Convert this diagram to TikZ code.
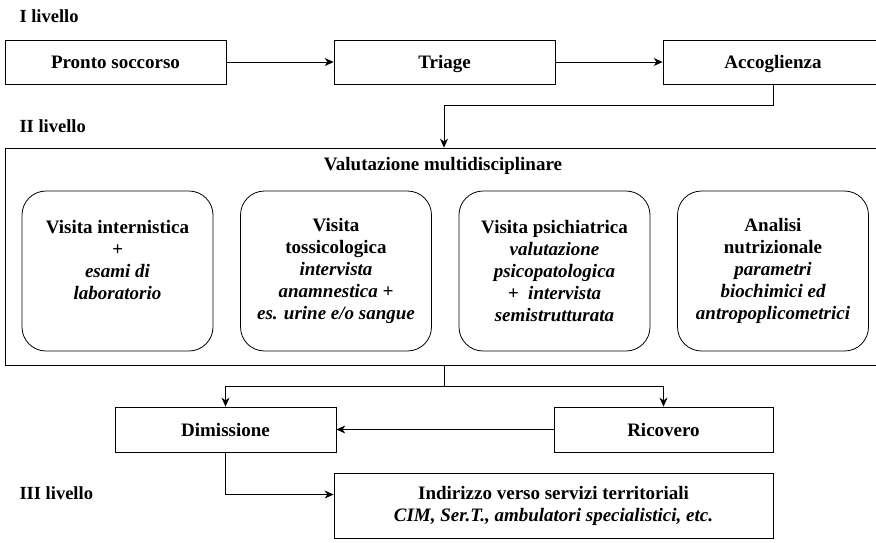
\documentclass[tikz,border=0pt]{standalone}
\usepackage{fontspec}
\setmainfont{Liberation Serif}
\usetikzlibrary{arrows.meta}

\tikzset{
  stepbox/.style={draw, line width=0.8pt, minimum height=44pt,
    font=\fontsize{19}{22}\selectfont\bfseries},
  oneline/.style={text height=15pt, text depth=2pt},
  visitbox/.style={draw, line width=0.8pt, rounded corners=24pt,
    minimum width=191pt, minimum height=160pt, align=center,
    font=\fontsize{19}{22}\selectfont\bfseries},
  levellabel/.style={anchor=west, font=\fontsize{18.5}{22}\selectfont\bfseries},
  conn/.style={line width=0.8pt},
  arr/.style={conn, -{Stealth[length=9pt,width=8pt]}}
}

\begin{document}
\begin{tikzpicture}[x=1pt,y=-1pt]
  \useasboundingbox (0,0) rectangle (876,542);
  % I livello
  \node[levellabel] (lev1) at (16,16) {I livello};
  \node[stepbox, oneline, minimum width=221pt] (ps) at (115.5,62) {Pronto soccorso};
  \node[stepbox, oneline, minimum width=221pt] (tri) at (444.5,62) {Triage};
  \node[stepbox, oneline, minimum width=220pt] (acc) at (773,62) {Accoglienza};
  \draw[arr] (ps) -- (tri);
  \draw[arr] (tri) -- (acc);
  % II livello
  \node[levellabel] (lev2) at (16,126) {II livello};
  \node[draw, line width=0.8pt, minimum width=875pt, minimum height=217pt] (valut) at (442.5,256.5) {};
  \node[font=\fontsize{19}{22}\selectfont\bfseries] (valtitle) at (443,166) {Valutazione multidisciplinare};
  \coordinate (split1) at (444,105);
  \draw[arr] (acc.south) |- (split1) -- (split1 |- valut.north);
  % Visite
  \node[visitbox] (vint) at (117.5,271) {Visita internistica\\ \itshape +\\ \itshape esami di\\ \itshape laboratorio\\ \mbox{}};
  \node[visitbox] (vtox) at (336,271) {Visita\\ tossicologica\\ \itshape intervista\\ \itshape anamnestica +\\ \itshape es. urine e/o sangue};
  \node[visitbox] (vpsi) at (554.5,271) {Visita psichiatrica\\ \itshape valutazione\\ \itshape psicopatologica\\ \itshape +~~intervista\\ \itshape semistrutturata};
  \node[visitbox] (vnut) at (773,271) {Analisi\\ nutrizionale\\ \itshape parametri\\ \itshape biochimici ed\\ \itshape antropoplicometrici};
  % Esito
  \node[stepbox, oneline, minimum width=221pt, minimum height=45pt] (dim) at (225.5,429.5) {Dimissione};
  \node[stepbox, oneline, minimum width=219pt, minimum height=45pt] (ric) at (663.5,429.5) {Ricovero};
  \coordinate (split2) at (444,386);
  \draw[conn] (split2 |- valut.south) -- (split2);
  \draw[arr] (split2) -| (dim.north);
  \draw[arr] (split2) -| (ric.north);
  \draw[arr] (ric) -- (dim);
  % III livello
  \node[levellabel] (lev3) at (16,493) {III livello};
  \node[stepbox, minimum width=439pt, minimum height=65pt, align=center] (ind) at (553.5,505.5)
    {Indirizzo verso servizi territoriali\\ \itshape CIM, Ser.T., ambulatori specialistici, etc.};
  \draw[arr] (dim.south) |- ([yshift=11pt]ind.west);
\end{tikzpicture}
\end{document}
